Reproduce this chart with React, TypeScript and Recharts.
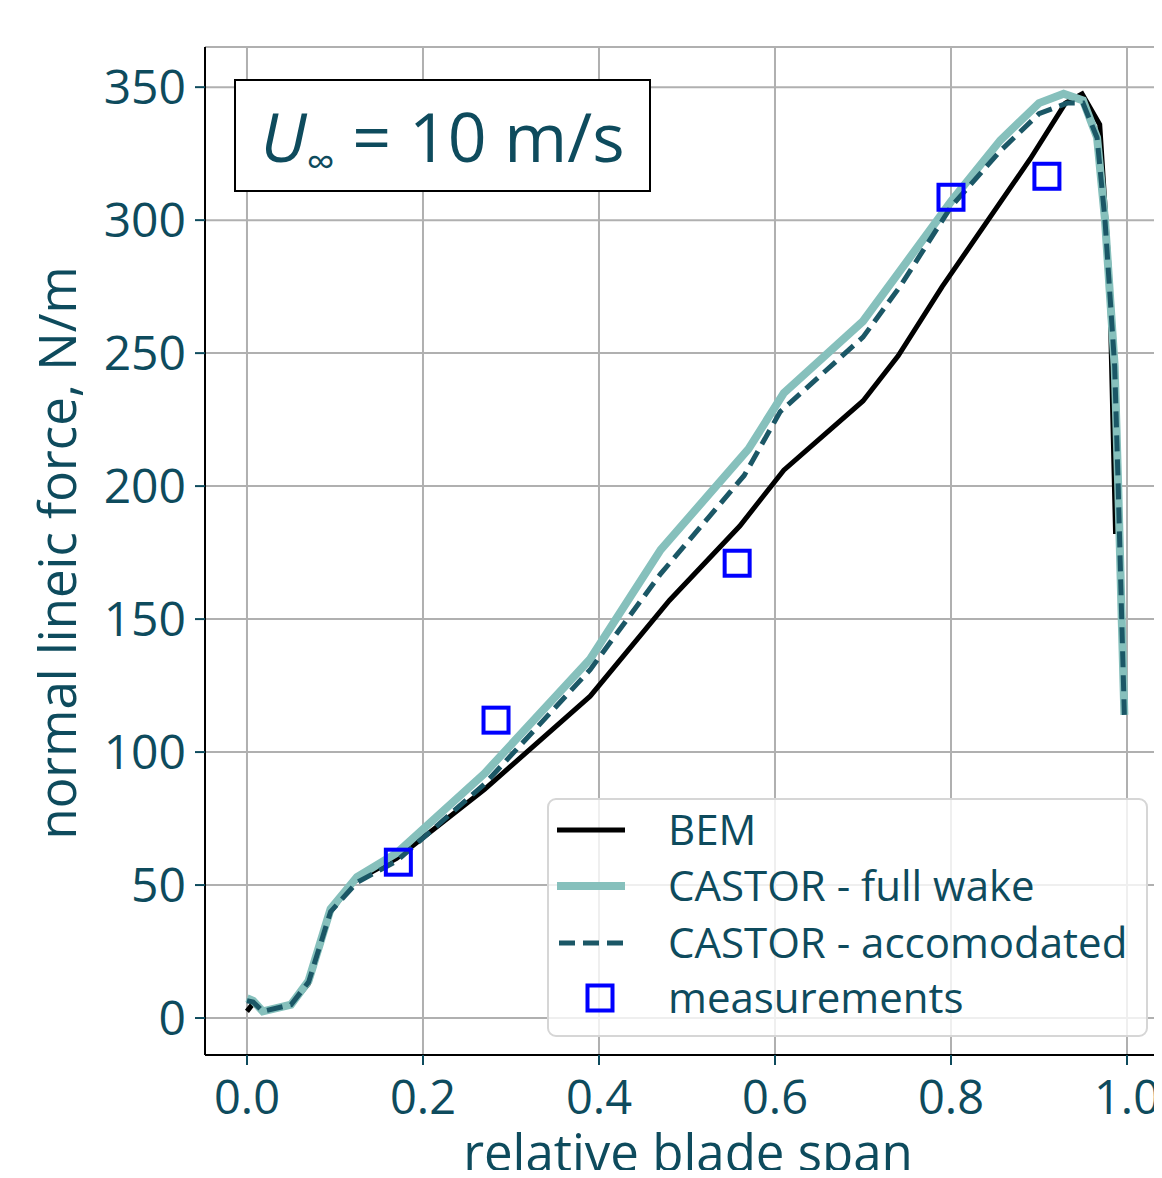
import React from 'react';
import {
  ComposedChart,
  Line,
  Scatter,
  XAxis,
  YAxis,
  CartesianGrid,
  Legend,
} from 'recharts';

// relative blade span / normal lineic force (N/m)
const bemSpan = [0, 0.007, 0.018, 0.05, 0.07, 0.095, 0.12, 0.17, 0.27, 0.39, 0.48, 0.56, 0.61, 0.7, 0.74, 0.79, 0.89, 0.93, 0.949, 0.969, 0.98, 0.987];
const bemForce = [2.5, 5.5, 2.5, 5, 13, 40, 51, 60, 86, 121, 157, 185, 206, 232, 249, 275, 323, 344, 347.5, 336, 280, 182];

const fullWakeSpan = [0, 0.007, 0.018, 0.05, 0.07, 0.095, 0.125, 0.17, 0.27, 0.39, 0.47, 0.57, 0.61, 0.7, 0.74, 0.8, 0.856, 0.9, 0.928, 0.95, 0.966, 0.975, 0.981, 0.986, 0.99, 0.994, 0.997];
const fullWakeForce = [7.5, 6.5, 2.5, 5, 14, 41, 53, 62, 92, 135, 176, 214, 235, 262, 280, 307, 330, 344, 347.5, 345, 331, 300, 270, 245, 200, 150, 114];

const accomSpan = [0, 0.007, 0.018, 0.05, 0.07, 0.095, 0.125, 0.17, 0.27, 0.39, 0.47, 0.565, 0.606, 0.7, 0.742, 0.8, 0.856, 0.9, 0.932, 0.95, 0.966, 0.975, 0.981, 0.986, 0.99, 0.994, 0.997];
const accomForce = [6.5, 6, 2.5, 5, 13.5, 40, 51, 59, 88, 131, 167, 204, 228, 256, 275, 305, 326, 340, 344, 344, 331, 300, 270, 245, 200, 150, 114];

const measSpan = [0.172, 0.283, 0.557, 0.8, 0.909];
const measForce = [58.6, 112, 171, 308.6, 316.5];

const xTicks = [0, 0.2, 0.4, 0.6, 0.8, 1.0];
const yTicks = [0, 50, 100, 150, 200, 250, 300, 350];

const legendLabels = ['BEM', 'CASTOR - full wake', 'CASTOR - accomodated', 'measurements'];

const TEXT = '#0e4b5d';
const TEAL = '#86c0bc';
const DARK = '#1b5766';
const BLUE = '#0000ff';
const FONT = "'Open Sans', sans-serif";

const zip = (xs: number[], ys: number[]) => xs.map((x, i) => ({ x, y: ys[i] }));

const bemData = zip(bemSpan, bemForce);
const fullData = zip(fullWakeSpan, fullWakeForce);
const accomData = zip(accomSpan, accomForce);
const measData = zip(measSpan, measForce);

const XTick = (props: any) => (
  <text x={props.x} y={1114} textAnchor="middle" fill={TEXT} fontSize={47} fontFamily={FONT}>
    {Number(props.payload.value).toFixed(1)}
  </text>
);

const YTick = (props: any) => (
  <text x={186} y={props.y + 17} textAnchor="end" fill={TEXT} fontSize={48} fontFamily={FONT}>
    {props.payload.value}
  </text>
);

const SquareMarker = (props: any) => {
  const { cx, cy } = props;
  return <rect x={cx - 12.5} y={cy - 12.5} width={25} height={25} fill="none" stroke={BLUE} strokeWidth={4} />;
};

const LegendBox = () => {
  const rowY = [32, 88, 145, 200];
  return (
    <svg width={601} height={239} style={{ display: 'block' }}>
      <rect x={1} y={1} width={599} height={237} rx={8} fill="rgba(255,255,255,0.8)" stroke="#d6d6d6" strokeWidth={2} />
      <line x1={10} x2={78} y1={rowY[0]} y2={rowY[0]} stroke="#000" strokeWidth={5} />
      <line x1={10} x2={78} y1={rowY[1]} y2={rowY[1]} stroke={TEAL} strokeWidth={8} />
      <line x1={12} x2={78} y1={rowY[2]} y2={rowY[2]} stroke={DARK} strokeWidth={5} strokeDasharray="16 8" />
      <rect x={40.5} y={rowY[3] - 12.5} width={25} height={25} fill="none" stroke={BLUE} strokeWidth={4} />
      {legendLabels.map((l, i) => (
        <text key={l} x={121} y={rowY[i] + 15} fill={TEXT} fontSize={42} fontFamily={FONT}>
          {l}
        </text>
      ))}
    </svg>
  );
};

const App: React.FC = () => {
  return (
    <div style={{ position: 'relative', width: 1162, height: 1178, overflow: 'hidden', margin: -8, background: '#fff' }}>
      <ComposedChart width={1200} height={1178} margin={{ top: 47, right: 29, bottom: 0, left: 0 }}>
        <CartesianGrid stroke="#b0b0b0" strokeWidth={2} />
        <XAxis
          type="number"
          dataKey="x"
          domain={[-0.0477, 1.05]}
          allowDataOverflow
          ticks={xTicks}
          height={123}
          tickSize={10}
          tick={<XTick />}
          axisLine={{ stroke: '#000', strokeWidth: 2 }}
          tickLine={{ stroke: TEXT, strokeWidth: 2 }}
          label={{
            content: () => (
              <text x={688} y={1171} textAnchor="middle" fill={TEXT} fontSize={51} fontFamily={FONT}>
                relative blade span
              </text>
            ),
          }}
        />
        <XAxis
          xAxisId="top"
          orientation="top"
          type="number"
          dataKey="x"
          domain={[-0.0477, 1.05]}
          allowDataOverflow
          height={0}
          tick={false}
          tickLine={false}
          axisLine={{ stroke: '#000', strokeWidth: 2 }}
        />
        <YAxis
          type="number"
          domain={[-13.9, 365.1]}
          allowDataOverflow
          ticks={yTicks}
          width={205}
          tickSize={10}
          tick={<YTick />}
          axisLine={{ stroke: '#000', strokeWidth: 2 }}
          tickLine={{ stroke: TEXT, strokeWidth: 2 }}
          label={{
            content: () => (
              <text
                x={76}
                y={553}
                transform="rotate(-90 76 553)"
                textAnchor="middle"
                fill={TEXT}
                fontSize={51}
                fontFamily={FONT}
              >
                normal lineic force, N/m
              </text>
            ),
          }}
        />
        <Line data={bemData} dataKey="y" type="linear" stroke="#000" strokeWidth={5} dot={false} isAnimationActive={false} name="BEM" />
        <Line data={fullData} dataKey="y" type="linear" stroke={TEAL} strokeWidth={8} dot={false} isAnimationActive={false} name="CASTOR - full wake" />
        <Line
          data={accomData}
          dataKey="y"
          type="linear"
          stroke={DARK}
          strokeWidth={5}
          strokeDasharray="16 8"
          dot={false}
          isAnimationActive={false}
          name="CASTOR - accomodated"
        />
        <Scatter data={measData} dataKey="y" shape={<SquareMarker />} isAnimationActive={false} name="measurements" />
        <Legend
          layout="vertical"
          align="center"
          verticalAlign="middle"
          content={() => <LegendBox />}
          wrapperStyle={{ position: 'absolute', left: 547, top: 798, width: 601, height: 239 }}
        />
      </ComposedChart>
      <div
        style={{
          position: 'absolute',
          left: 234,
          top: 79,
          width: 413,
          height: 109,
          border: '2px solid #000',
          background: '#fff',
          color: TEXT,
          fontFamily: FONT,
          fontSize: 68,
          lineHeight: '109px',
          textAlign: 'center',
          whiteSpace: 'nowrap',
        }}
      >
        <span style={{ fontStyle: 'italic' }}>U</span>
        <span style={{ fontSize: 40, verticalAlign: -14 }}>∞</span>
        <span> = 10 m/s</span>
      </div>
    </div>
  );
};

export default App;
